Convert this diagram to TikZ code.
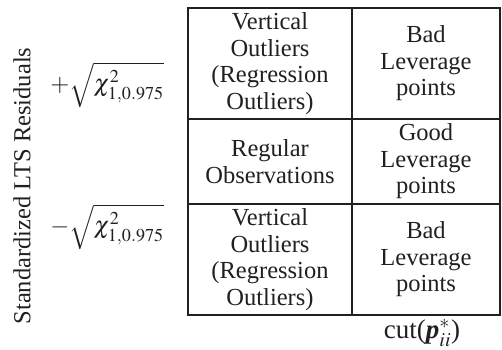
\documentclass[tikz,border=0pt]{standalone}
\usepackage{mathptmx}
\usepackage{fontspec}
\setmainfont{Liberation Serif}
\usetikzlibrary{positioning}
\definecolor{inkText}{HTML}{231F20}
\newcommand{\chiBound}{\sqrt{\chi^{2}_{1,0.975}}}
\begin{document}
\begin{tikzpicture}[x=1pt, y=-1pt,
    cell/.style={draw=inkText, line width=2pt, align=center, inner sep=0pt,
                 text=inkText, font=\fontsize{24.5}{26.5}\selectfont},
    leftcol/.style={cell, minimum width=164pt},
    rightcol/.style={cell, minimum width=148pt},
    axislabel/.style={text=inkText, font=\fontsize{24.5}{26.5}\selectfont}]
  \useasboundingbox (0,0) rectangle (502,349);

  % left column
  \node[leftcol, minimum height=111pt] (vertTop) at (270,63.5)
    {Vertical\\Outliers\\(Regression\\Outliers)};
  \node[leftcol, minimum height=85pt] (regular) at (270,161.5)
    {Regular\\Observations};
  \node[leftcol, minimum height=111pt] (vertBot) at (270,259.5)
    {Vertical\\Outliers\\(Regression\\Outliers)};

  % right column
  \node[rightcol, minimum height=111pt] (badTop) at (426,63.5)
    {Bad\\Leverage\\points};
  \node[rightcol, minimum height=85pt] (good) at (426,161.5)
    {Good\\Leverage\\points};
  \node[rightcol, minimum height=111pt] (badBot) at (426,259.5)
    {Bad\\Leverage\\points};

  % axes
  \node[axislabel, rotate=90] (yLabel) at (22,186) {Standardized LTS Residuals};
  \node[axislabel] (upper) at (107,85) {$+\chiBound$};
  \node[axislabel] (lower) at (107,227) {$-\chiBound$};
  \node[axislabel, font=\fontsize{27}{29}\selectfont, inner sep=0pt] (cutoff) at (422,333)
    {cut(\textbf{\textit{p}}$^{*}_{ii}$)};
\end{tikzpicture}
\end{document}
